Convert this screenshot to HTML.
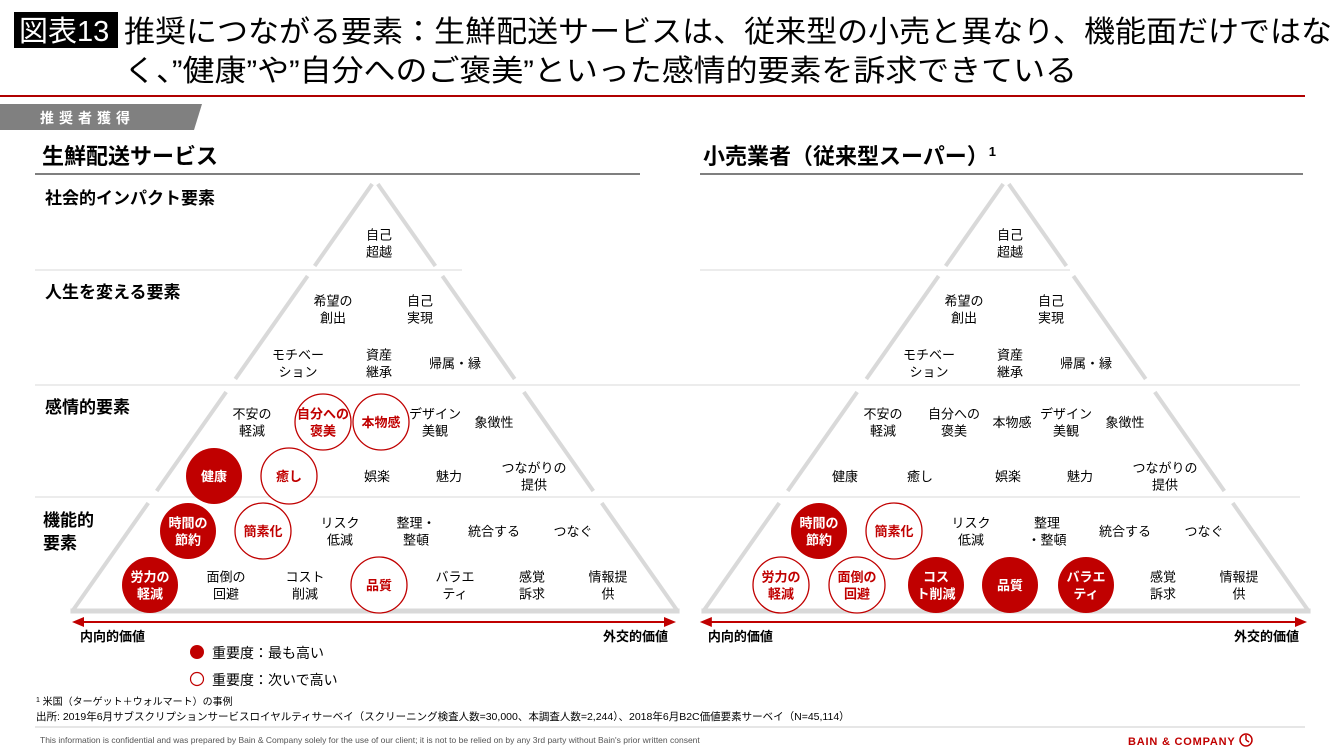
<!DOCTYPE html>
<html><head><meta charset="utf-8"><style>
html,body{margin:0;padding:0;background:#fff;}
svg{display:block;font-family:"Liberation Sans","Noto Sans CJK JP",sans-serif;}
</style></head><body>
<svg id="s" width="1340" height="754" viewBox="0 0 1340 754" xmlns="http://www.w3.org/2000/svg">
<g>
<rect x="14" y="12" width="104" height="36" fill="#000"/>
<text x="19" y="41" font-size="29" fill="#fff">図表13</text>
<text x="124" y="42" font-size="30" textLength="1208" lengthAdjust="spacingAndGlyphs" fill="#000">推奨につながる要素：生鮮配送サービスは、従来型の小売と異なり、機能面だけではな</text>
<text x="124" y="81" font-size="30" textLength="953" lengthAdjust="spacingAndGlyphs" fill="#000">く、”健康”や”自分へのご褒美”といった感情的要素を訴求できている</text>
</g>
<line x1="0" y1="96" x2="1305" y2="96" stroke="#b00000" stroke-width="2"/>
<polygon points="0,104 202,104 194,130 0,130" fill="#808080"/>
<text x="40" y="123" font-size="14" font-weight="bold" fill="#fff" letter-spacing="5">推奨者獲得</text>

<text x="42" y="164" font-size="22" font-weight="bold">生鮮配送サービス</text>
<line x1="35" y1="174" x2="640" y2="174" stroke="#333" stroke-width="1.2"/>
<text x="703" y="164" font-size="22" font-weight="bold">小売業者（従来型スーパー）<tspan font-size="13" dy="-8">1</tspan></text>
<line x1="700" y1="174" x2="1303" y2="174" stroke="#333" stroke-width="1.2"/>

<g stroke="#d8d8d8" stroke-width="1">
<line x1="35" y1="270" x2="462" y2="270"/><line x1="700" y1="270" x2="1070" y2="270"/>
<line x1="35" y1="385" x2="1300" y2="385"/>
<line x1="35" y1="497" x2="1300" y2="497"/>
</g>
<g font-size="17" font-weight="bold">
<text x="45" y="204">社会的インパクト要素</text>
<text x="45" y="298">人生を変える要素</text>
<text x="45" y="413">感情的要素</text>
<text x="43" y="526">機能的<tspan x="43" dy="23">要素</tspan></text>
</g>
<g id="charts"></g>

<g>
<circle cx="197" cy="652" r="7" fill="#c00000"/>
<text x="212" y="658" font-size="14">重要度：最も高い</text>
<circle cx="197" cy="679" r="6.5" fill="#fff" stroke="#c00000" stroke-width="1.2"/>
<text x="212" y="685" font-size="14">重要度：次いで高い</text>
</g>
<text x="36" y="705" font-size="10"><tspan font-size="7" dy="-3">1</tspan><tspan dy="3"> 米国（ターゲット＋ウォルマート）の事例</tspan></text>
<text x="36" y="720" font-size="10.5">出所:  2019年6月サブスクリプションサービスロイヤルティサーベイ（スクリーニング検査人数=30,000、本調査人数=2,244）、2018年6月B2C価値要素サーベイ（N=45,114）</text>
<line x1="35" y1="727" x2="1305" y2="727" stroke="#ccc" stroke-width="1"/>
<text x="40" y="743" font-size="8.5" fill="#555">This information is confidential and was prepared by Bain &amp; Company solely for the use of our client; it is not to be relied on by any 3rd party without Bain's prior written consent</text>
<text x="1128" y="745" font-size="11" font-weight="bold" fill="#c00000" letter-spacing="0.8">BAIN &amp; COMPANY</text>
<circle cx="1246" cy="740" r="6" fill="none" stroke="#c00000" stroke-width="1.5"/>
<line x1="1246" y1="740" x2="1246" y2="735" stroke="#c00000" stroke-width="1.5"/>
<line x1="1246" y1="740" x2="1249" y2="742" stroke="#c00000" stroke-width="1.5"/>
</svg>
<script>
// Element labels per row (two lines separated by |)
const socialRow = ["自己|超越"];
const lifeRow1 = ["希望の|創出","自己|実現"];
const lifeRow2 = ["モチベー|ション","資産|継承","帰属・縁"];
const emoRow1 = ["不安の|軽減","自分への|褒美","本物感","デザイン|美観","象徴性"];
const emoRow2 = ["健康","癒し","娯楽","魅力","つながりの|提供"];
const funcRow1 = ["時間の|節約","簡素化","リスク|低減","整理・|整頓","統合する","つなぐ"];
const funcRow1R = ["時間の|節約","簡素化","リスク|低減","整理|・整頓","統合する","つなぐ"];
const funcRow2 = ["労力の|軽減","面倒の|回避","コスト|削減","品質","バラエ|ティ","感覚|訴求","情報提|供"];
const funcRow2R = ["労力の|軽減","面倒の|回避","コス|ト削減","品質","バラエ|ティ","感覚|訴求","情報提|供"];
// Importance: 2 = highest (filled), 1 = next (outline), 0 = none
const deliveryEmo1 = [0,1,1,0,0];
const deliveryEmo2 = [2,1,0,0,0];
const deliveryFunc1 = [2,1,0,0,0,0];
const deliveryFunc2 = [2,0,0,1,0,0,0];
const retailEmo1 = [0,0,0,0,0];
const retailEmo2 = [0,0,0,0,0];
const retailFunc1 = [2,1,0,0,0,0];
const retailFunc2 = [1,1,2,2,2,0,0];

const NS="http://www.w3.org/2000/svg";
const root=document.getElementById('charts');
const RED="#c00000";
// layout (not data)
const L = {
  social:{y:243,xs:[379]},
  life1:{y:309,xs:[333,420]},
  life2:{y:363,xs:[298,379,455]},
  emo1:{y:422,xs:[252,323,381,435,494]},
  emo2:{y:476,xs:[214,289,377,449,534]},
  func1:{y:531,xs:[188,263,340,416,494,573]},
  func2:{y:585,xs:[150,226,305,379,455,532,608]}
};
function mk(tag,attrs,parent){const e=document.createElementNS(NS,tag);for(const k in attrs)e.setAttribute(k,attrs[k]);parent.appendChild(e);return e;}

function drawPyramid(g,apex){
  const k=0.702;
  const bands=[[184,266],[276,379],[392,491],[503,611]];
  bands.forEach(b=>{
    const l=mk('line',{x1:apex-k*(b[0]-180),y1:b[0],x2:apex-k*(b[1]-180),y2:b[1],stroke:"#d9d9d9","stroke-width":4},g);
    
    
    const r=mk('line',{x1:apex+k*(b[0]-180),y1:b[0],x2:apex+k*(b[1]-180),y2:b[1],stroke:"#d9d9d9","stroke-width":4},g);
    
    
  });
  const base=mk('line',{x1:apex-k*431-2,y1:611,x2:apex+k*431+2,y2:611,stroke:"#d9d9d9","stroke-width":5},g);
  
  
}
function drawArrow(g,x1,x2){
  const l=mk('line',{x1:x1+8,y1:622,x2:x2-8,y2:622,stroke:RED,"stroke-width":2},g);
  
  
  mk('polygon',{points:`${x1},622 ${x1+12},617 ${x1+12},627`,fill:RED},g);
  mk('polygon',{points:`${x2},622 ${x2-12},617 ${x2-12},627`,fill:RED},g);
  const a=mk('text',{x:x1+8,y:641,"font-size":13,"font-weight":"bold"},g);a.textContent="内向的価値";
  
  
  const b=mk('text',{x:x2-8,y:641,"font-size":13,"font-weight":"bold","text-anchor":"end"},g);b.textContent="外交的価値";
  
  
}
function drawRow(g,labels,imp,lay,dx){
  labels.forEach((lab,i)=>{
    const cx=lay.xs[i]+dx, cy=lay.y;
    const v=imp?imp[i]:0;
    const item=mk('g',{},g);
    
    
    if(v===2){const c=mk('circle',{cx,cy,r:28,fill:RED},item);}
    if(v===1){const c=mk('circle',{cx,cy,r:28,fill:"#fff",stroke:RED,"stroke-width":1.3},item);}
    const parts=lab.split('|');
    const fill=v===2?"#fff":(v===1?RED:"#000");
    const t=mk('text',{x:cx,"font-size":13,"text-anchor":"middle",fill,"font-weight":v?"bold":"normal"},item);
    const y0=cy+5-(parts.length-1)*8.5;
    t.setAttribute('y',y0);
    parts.forEach((p,j)=>{const ts=mk('tspan',{x:cx,y:y0+j*17},t);ts.textContent=p;});
  });
}
function drawChart(dx,apex,imps,f1,f2,name){
  const g=mk('g',{},root);
  
  
  drawPyramid(g,apex);
  drawRow(g,socialRow,null,L.social,dx);
  drawRow(g,lifeRow1,null,L.life1,dx);
  drawRow(g,lifeRow2,null,L.life2,dx);
  drawRow(g,emoRow1,imps[0],L.emo1,dx);
  drawRow(g,emoRow2,imps[1],L.emo2,dx);
  drawRow(g,f1,imps[2],L.func1,dx);
  drawRow(g,f2,imps[3],L.func2,dx);
  drawArrow(g,72+dx*0.995,676+dx);
}
drawChart(0,375,[deliveryEmo1,deliveryEmo2,deliveryFunc1,deliveryFunc2],funcRow1,funcRow2,'delivery-pyramid');
drawChart(631,1006,[retailEmo1,retailEmo2,retailFunc1,retailFunc2],funcRow1R,funcRow2R,'retail-pyramid');
</script>
</body></html>
